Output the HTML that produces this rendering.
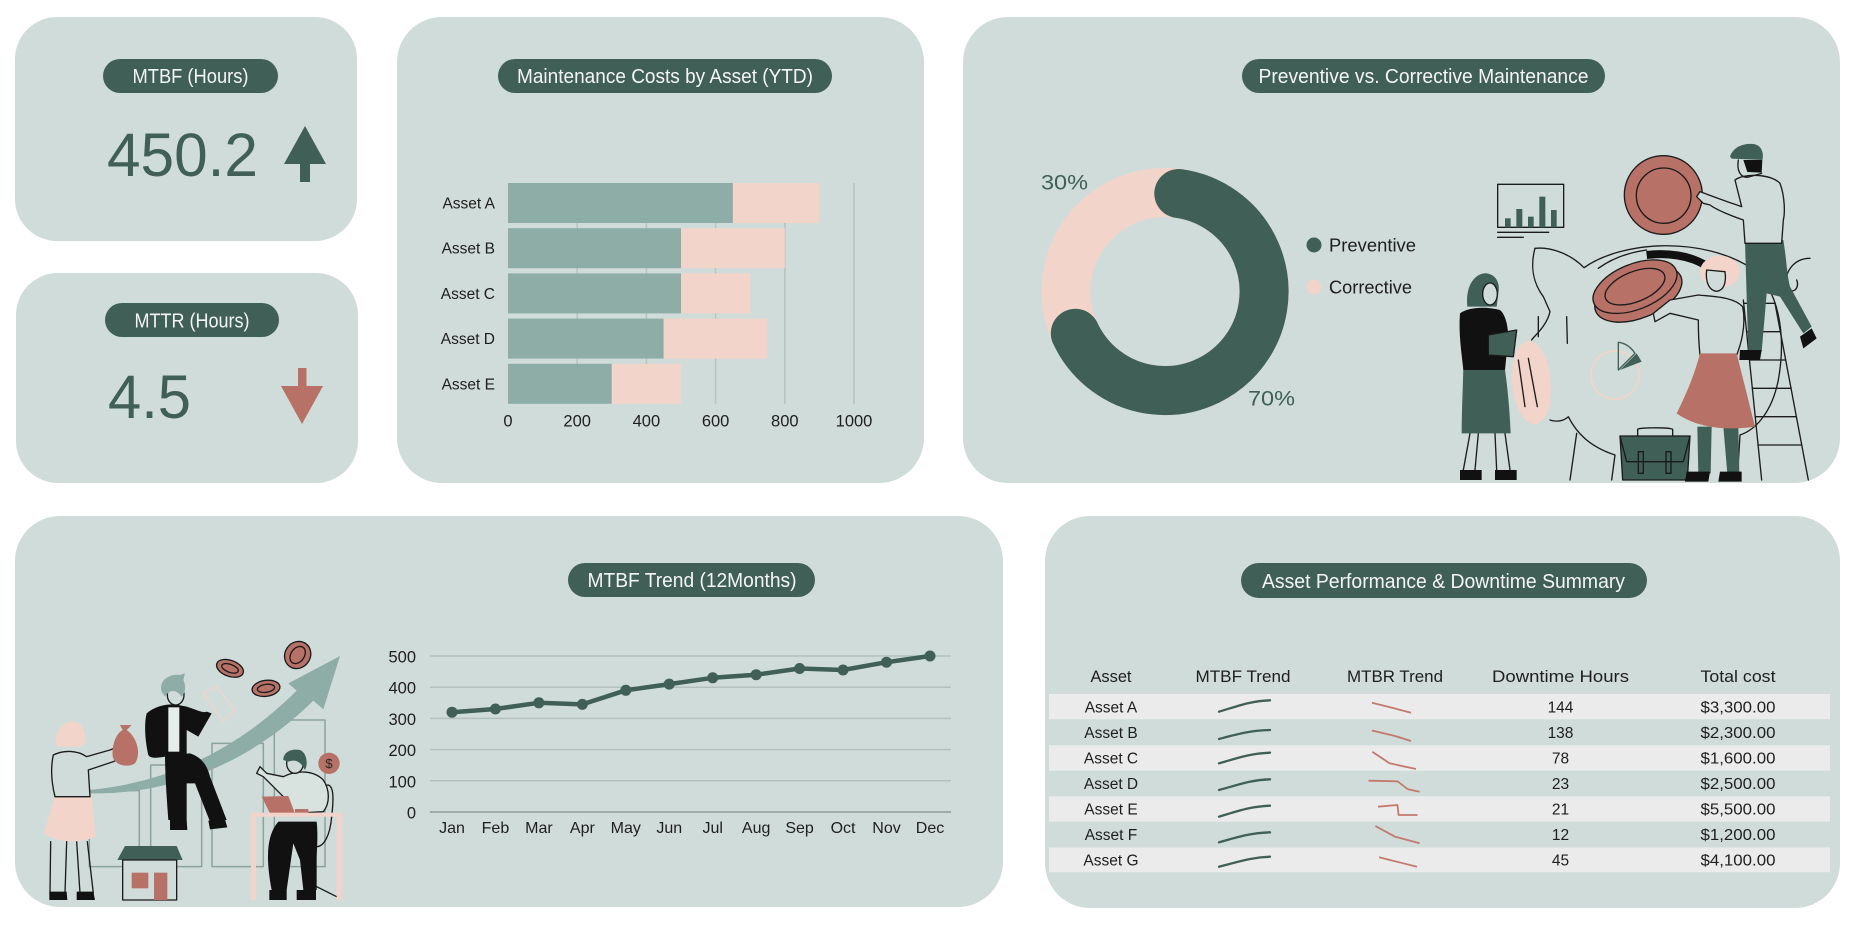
<!DOCTYPE html>
<html><head><meta charset="utf-8"><style>
html,body{margin:0;padding:0;background:#fff;}
svg{display:block;}
text{font-family:"Liberation Sans",sans-serif;}
</style></head><body>
<svg width="1860" height="930" viewBox="0 0 1860 930" xmlns="http://www.w3.org/2000/svg">
<rect width="1860" height="930" fill="#fff"/>
<!-- panels -->
<g fill="#d0dcd9">
<rect x="15" y="17" width="342" height="224" rx="42"/>
<rect x="16" y="273" width="342" height="210" rx="42"/>
<rect x="397" y="17" width="527" height="466" rx="45"/>
<rect x="963" y="17" width="877" height="466" rx="45"/>
<rect x="15" y="516" width="988" height="391" rx="45"/>
<rect x="1045" y="516" width="795" height="392" rx="45"/>
</g>
<!-- pills -->
<g fill="#3f5f57">
<rect x="103" y="59" width="175" height="34" rx="17"/>
<rect x="105" y="303" width="174" height="34" rx="17"/>
<rect x="498" y="59" width="334" height="34" rx="17"/>
<rect x="1242" y="59" width="363" height="34" rx="17"/>
<rect x="568" y="563" width="247" height="34" rx="17"/>
<rect x="1241" y="563" width="406" height="35" rx="17.5"/>
</g>
<g fill="#f5f5f5" font-size="20" text-anchor="middle">
<text x="190.5" y="83" textLength="116" lengthAdjust="spacingAndGlyphs">MTBF (Hours)</text>
<text x="192" y="327.5" textLength="115" lengthAdjust="spacingAndGlyphs">MTTR (Hours)</text>
<text x="665" y="83" textLength="296" lengthAdjust="spacingAndGlyphs">Maintenance Costs by Asset (YTD)</text>
<text x="1423.5" y="83" textLength="330" lengthAdjust="spacingAndGlyphs">Preventive vs. Corrective Maintenance</text>
<text x="692" y="587" textLength="209" lengthAdjust="spacingAndGlyphs">MTBF Trend (12Months)</text>
<text x="1443.5" y="588" textLength="363" lengthAdjust="spacingAndGlyphs">Asset Performance &amp; Downtime Summary</text>
</g>

<!-- KPI values -->
<g fill="#3f5f57" font-size="61">
<text x="107" y="176" textLength="151" lengthAdjust="spacingAndGlyphs">450.2</text>
<text x="108" y="418" textLength="83" lengthAdjust="spacingAndGlyphs">4.5</text>
</g>
<polygon points="305,126 326,164 284,164" fill="#3f5f57"/>
<rect x="300" y="163" width="10" height="19" fill="#3f5f57"/>
<rect x="298" y="368" width="8.5" height="19" fill="#b77167"/>
<polygon points="281,386 323,386 302,424" fill="#b77167"/>

<!-- Bar chart -->
<g stroke="#b6c3c0" stroke-width="1.5">
<line x1="577.2" y1="183" x2="577.2" y2="404"/>
<line x1="646.4" y1="183" x2="646.4" y2="404"/>
<line x1="715.6" y1="183" x2="715.6" y2="404"/>
<line x1="784.8" y1="183" x2="784.8" y2="404"/>
<line x1="854" y1="183" x2="854" y2="404"/>
</g>
<g fill="#8dada6">
<rect x="508" y="183" width="224.9" height="40"/>
<rect x="508" y="228.2" width="173" height="40"/>
<rect x="508" y="273.4" width="173" height="40"/>
<rect x="508" y="318.6" width="155.7" height="40"/>
<rect x="508" y="363.8" width="103.8" height="40"/>
</g>
<g fill="#f2d4ca">
<rect x="732.9" y="183" width="86.5" height="40"/>
<rect x="681" y="228.2" width="103.8" height="40"/>
<rect x="681" y="273.4" width="69.2" height="40"/>
<rect x="663.7" y="318.6" width="103.8" height="40"/>
<rect x="611.8" y="363.8" width="69.2" height="40"/>
</g>
<g fill="#1e1e1e" font-size="15.5" text-anchor="end">
<text x="495" y="208.5">Asset A</text>
<text x="495" y="253.7">Asset B</text>
<text x="495" y="298.9">Asset C</text>
<text x="495" y="344.1">Asset D</text>
<text x="495" y="389.3">Asset E</text>
</g>
<g fill="#1e1e1e" font-size="16.5" text-anchor="middle">
<text x="508" y="426.5">0</text>
<text x="577.2" y="426.5">200</text>
<text x="646.4" y="426.5">400</text>
<text x="715.6" y="426.5">600</text>
<text x="784.8" y="426.5">800</text>
<text x="854" y="426.5">1000</text>
</g>

<!-- Donut -->
<circle cx="1165" cy="291.5" r="99" fill="none" stroke="#f2d4ca" stroke-width="49"/>
<path d="M1178.8,193.5 A99,99 0 1 1 1075.3,333.3" fill="none" stroke="#3f5f57" stroke-width="49" stroke-linecap="round"/>
<g fill="#3f5f57" font-size="21">
<text x="1041" y="189.5" textLength="47" lengthAdjust="spacingAndGlyphs">30%</text>
<text x="1248" y="405.5" textLength="47" lengthAdjust="spacingAndGlyphs">70%</text>
</g>
<circle cx="1314" cy="245" r="7.5" fill="#3f5f57"/>
<circle cx="1314" cy="287" r="7.5" fill="#f2d4ca"/>
<g fill="#1e1e1e" font-size="18.5">
<text x="1329" y="251.5" textLength="87" lengthAdjust="spacingAndGlyphs">Preventive</text>
<text x="1329" y="293.5" textLength="83" lengthAdjust="spacingAndGlyphs">Corrective</text>
</g>

<!-- Right illustration -->
<g transform="translate(1450,140) scale(0.33333)" stroke="#1b1b1b" stroke-width="4" stroke-linejoin="round" stroke-linecap="round" fill="none">
  <!-- pig body -->
  <path d="M255,325 C300,320 360,340 402,383 C520,300 760,290 905,385 C985,445 1010,580 985,720 C965,820 915,870 870,885 L862,1020"/>
  <path d="M255,325 C240,380 250,430 280,470 L300,515 C290,560 250,590 245,600"/>
  <path d="M300,840 C330,850 350,835 355,830 C380,880 420,920 495,945 L485,1020"/>
  <path d="M380,880 L360,1020"/>
  <path d="M445,385 C490,352 540,337 590,330"/>
  <path d="M265,530 L265,590 M350,530 L352,610"/>
  <path d="M1080,355 C1030,355 1000,400 1010,440 C1030,470 1050,440 1040,420"/>
  <!-- pie -->
  <circle cx="495" cy="705" r="72" stroke="#f2d4ca" stroke-width="5"/>
  <path d="M505,690 L505,607 C530,610 545,625 555,640 Z" stroke="#3f5f57"/>
  <path d="M510,690 L560,640 L575,665 Z" fill="#3f5f57" stroke="none"/>
  <!-- ladder -->
  <path d="M880,480 L935,1020 M975,490 L1075,1020"/>
  <path d="M881,490 L975,490 M890,575 L991,575 M899,660 L1007,660 M907,745 L1023,745 M916,830 L1039,830 M924,915 L1055,915"/>
  <!-- chart board -->
  <rect x="143" y="133" width="198" height="129"/>
  <g fill="#3f5f57" stroke="none">
    <rect x="165" y="235" width="17" height="27"/>
    <rect x="199" y="207" width="18" height="55"/>
    <rect x="234" y="230" width="17" height="32"/>
    <rect x="268" y="170" width="18" height="92"/>
    <rect x="303" y="210" width="17" height="52"/>
  </g>
  <path d="M143,277 L296,277 M143,292 L220,292"/>
  <!-- briefcase -->
  <path d="M563,890 L563,868 C563,862 668,862 668,868 L668,890"/>
  <path d="M510,888 L720,888 L712,1020 L518,1020 Z" fill="#3f5f57"/>
  <path d="M510,888 L530,965 L700,965 L720,888"/>
  <rect x="565" y="935" width="15" height="65"/>
  <rect x="648" y="935" width="15" height="65"/>
  <!-- top coin -->
  <ellipse cx="640" cy="165" rx="117" ry="118" fill="#b77167"/>
  <ellipse cx="641" cy="167" rx="82" ry="83"/>
  <!-- slot band -->
  <path d="M590,345 C650,338 720,345 770,378" stroke="#111" stroke-width="24" stroke-linecap="butt"/>
  <!-- middle coin -->
  <ellipse cx="565" cy="462" rx="138" ry="72" transform="rotate(-22 565 462)" fill="#b77167"/>
  <ellipse cx="555" cy="440" rx="133" ry="68" transform="rotate(-22 555 440)" fill="#b77167"/>
  <ellipse cx="555" cy="440" rx="95" ry="45" transform="rotate(-22 555 440)"/>
  <!-- man on ladder -->
  <path d="M885,305 L1000,300 C1010,360 1010,400 1020,440 L1085,560 L1060,580 L990,470 L950,460 L935,635 L895,635 L890,470 Z" fill="#3f5f57" stroke="none"/>
  <path d="M855,120 C880,100 960,100 990,130 C1005,170 1005,220 1000,240 L995,310 L885,310 L880,240 C850,230 800,210 780,195 L760,190 L740,170 L750,155 L790,170 C830,185 860,195 875,200 Z" fill="#d0dcd9"/>
  <path d="M865,60 C860,90 870,112 892,112 L935,100"/>
  <path d="M880,60 L937,60 L935,98 L892,96 Z" fill="#111" stroke="none"/>
  <path d="M840,50 C850,20 880,10 910,12 C935,15 942,40 937,60 L845,56 Z" fill="#3f5f57" stroke="none"/>
  <path d="M870,630 L935,630 L930,660 L868,660 Z" fill="#111" stroke="none"/>
  <path d="M1050,590 L1085,565 L1100,595 L1060,625 Z" fill="#111" stroke="none"/>
  <!-- pink-haired woman -->
  <path d="M742,860 L785,860 L782,1000 L745,1000 Z M820,860 L865,860 L868,1000 L832,1000 Z" fill="#3f5f57" stroke="none"/>
  <path d="M710,995 L780,995 L775,1025 L705,1025 Z M810,995 L875,995 L875,1025 L805,1025 Z" fill="#111" stroke="none"/>
  <path d="M745,465 C790,470 850,470 878,500 C890,560 870,620 860,645 L750,645 C745,600 745,560 745,540 L660,520 L615,545 L610,520 L660,480 Z" fill="#d0dcd9"/>
  <path d="M750,640 L860,640 C880,720 900,800 915,860 C850,870 750,870 680,820 C710,760 735,700 750,640 Z" fill="#b77167" stroke="none"/>
  <ellipse cx="810" cy="395" rx="60" ry="48" fill="#f2d4ca" stroke="none"/>
  <path d="M770,390 C765,430 780,452 800,454 C820,452 830,430 825,395 Z" fill="#d0dcd9"/>
  <!-- left woman -->
  <path d="M60,880 L40,990 M85,880 L75,990 M135,880 L140,990 M165,880 L180,990"/>
  <path d="M30,990 L95,990 L95,1020 L30,1020 Z M135,990 L200,990 L200,1020 L135,1020 Z" fill="#111" stroke="none"/>
  <path d="M40,685 L165,690 C175,760 180,830 182,880 L35,880 C35,820 38,760 40,685 Z" fill="#3f5f57" stroke="none"/>
  <path d="M30,520 C60,500 110,500 150,510 C175,530 180,600 170,640 L165,690 L40,690 C35,640 25,580 30,520 Z" fill="#111" stroke="none"/>
  <path d="M52,500 C45,430 80,398 110,400 C145,405 150,440 145,460 L140,500 Z" fill="#3f5f57" stroke="none"/>
  <ellipse cx="120" cy="462" rx="22" ry="33" fill="#d0dcd9"/>
  <polygon points="115,585 200,570 190,650 115,645" fill="#3f5f57"/>
  <!-- pink coin -->
  <ellipse cx="245" cy="728" rx="58" ry="125" transform="rotate(-5 245 728)" fill="#f2d4ca" stroke="none"/>
  <path d="M205,660 L225,800 M235,655 L262,800"/>
</g>

<!-- Line chart -->
<g stroke="#b3c0bd" stroke-width="1.5">
<line x1="430" y1="656" x2="951" y2="656"/>
<line x1="430" y1="687.2" x2="951" y2="687.2"/>
<line x1="430" y1="718.4" x2="951" y2="718.4"/>
<line x1="430" y1="749.6" x2="951" y2="749.6"/>
<line x1="430" y1="780.8" x2="951" y2="780.8"/>
</g>
<line x1="430" y1="812" x2="951" y2="812" stroke="#8e9c99" stroke-width="1.5"/>
<g fill="#1e1e1e" font-size="16.5" text-anchor="end">
<text x="416" y="662.5">500</text>
<text x="416" y="693.7">400</text>
<text x="416" y="724.9">300</text>
<text x="416" y="756.1">200</text>
<text x="416" y="787.3">100</text>
<text x="416" y="818.5">0</text>
</g>
<polyline fill="none" stroke="#3f5f57" stroke-width="4.5" stroke-linejoin="round" points="452,712.2 495.45,709 538.9,702.8 582.35,704.4 625.8,690.3 669.25,684.1 712.7,677.8 756.15,674.7 799.6,668.5 843.05,670 886.5,662.2 930,656"/>
<g fill="#3f5f57">
<circle cx="452" cy="712.2" r="5.5"/><circle cx="495.45" cy="709" r="5.5"/><circle cx="538.9" cy="702.8" r="5.5"/><circle cx="582.35" cy="704.4" r="5.5"/><circle cx="625.8" cy="690.3" r="5.5"/><circle cx="669.25" cy="684.1" r="5.5"/><circle cx="712.7" cy="677.8" r="5.5"/><circle cx="756.15" cy="674.7" r="5.5"/><circle cx="799.6" cy="668.5" r="5.5"/><circle cx="843.05" cy="670" r="5.5"/><circle cx="886.5" cy="662.2" r="5.5"/><circle cx="930" cy="656" r="5.5"/>
</g>
<g fill="#1e1e1e" font-size="16" text-anchor="middle">
<text x="452" y="833">Jan</text><text x="495.45" y="833">Feb</text><text x="538.9" y="833">Mar</text><text x="582.35" y="833">Apr</text><text x="625.8" y="833">May</text><text x="669.25" y="833">Jun</text><text x="712.7" y="833">Jul</text><text x="756.15" y="833">Aug</text><text x="799.6" y="833">Sep</text><text x="843.05" y="833">Oct</text><text x="886.5" y="833">Nov</text><text x="930" y="833">Dec</text>
</g>

<!-- Left illustration -->
<g transform="translate(30,630) scale(0.33333)" stroke="#1b1b1b" stroke-width="4" stroke-linejoin="round" stroke-linecap="round" fill="none">
  <g stroke="#8aa39c" stroke-width="4.5">
    <rect x="178" y="482" width="150" height="228"/>
    <rect x="362" y="405" width="153" height="305"/>
    <rect x="546" y="340" width="154" height="370"/>
    <rect x="733" y="270" width="152" height="440"/>
  </g>
  <path d="M180,480 C420,455 620,360 800,182 L775,160 L930,78 L880,238 L850,212 C660,400 420,495 180,490 Z" fill="#8dada6" stroke="none"/>
  <ellipse cx="600" cy="115" rx="42" ry="24" transform="rotate(20 600 115)" fill="#b77167"/>
  <ellipse cx="600" cy="115" rx="26" ry="12" transform="rotate(20 600 115)"/>
  <ellipse cx="708" cy="175" rx="42" ry="24" transform="rotate(-8 708 175)" fill="#b77167"/>
  <ellipse cx="708" cy="175" rx="26" ry="12" transform="rotate(-8 708 175)"/>
  <ellipse cx="803" cy="75" rx="38" ry="42" transform="rotate(35 803 75)" fill="#b77167"/>
  <ellipse cx="803" cy="75" rx="20" ry="28" transform="rotate(35 803 75)"/>
  <!-- woman -->
  <path d="M62,635 L60,790 M110,635 L105,790 M140,635 L150,790 M172,635 L190,790"/>
  <path d="M58,785 L110,785 L112,810 L58,810 Z M140,785 L190,785 L195,810 L140,810 Z" fill="#111" stroke="none"/>
  <path d="M75,495 L185,495 C190,550 195,590 198,620 C150,640 90,640 40,610 C55,570 65,530 75,495 Z" fill="#f2d4ca" stroke="none"/>
  <path d="M70,375 C100,360 140,360 170,380 L240,360 L265,350 L270,385 L250,395 L175,420 L180,500 L75,500 C65,460 60,420 70,375 Z" fill="#d0dcd9"/>
  <path d="M80,350 C70,300 100,272 130,275 C160,278 168,310 165,340 L150,350 Z" fill="#f2d4ca" stroke="none"/>
  <path d="M270,285 L305,285 L290,300 C320,320 335,370 315,400 C290,415 255,405 248,380 C245,340 260,310 278,300 Z" fill="#b77167" stroke="none"/>
  <!-- sitting man -->
  <path d="M405,375 L480,370 C510,380 530,400 540,440 L590,570 L540,575 L495,460 L470,460 L470,570 L415,570 C410,500 405,430 405,375 Z" fill="#111" stroke="none"/>
  <path d="M350,250 C380,225 420,220 445,225 L470,230 C500,240 520,250 530,245 L545,250 L505,320 L470,300 L470,380 L405,380 C380,385 360,385 355,375 C345,330 342,280 350,250 Z" fill="#111" stroke="none"/>
  <rect x="415" y="232" width="33" height="133" fill="#e6ecea" stroke="none"/>
  <ellipse cx="437" cy="195" rx="25" ry="30" fill="#d0dcd9"/>
  <path d="M395,185 C385,150 420,130 450,135 L465,130 L460,150 C470,170 465,190 455,200 C440,180 420,175 405,200 Z" fill="#8dada6" stroke="none"/>
  <path d="M420,570 L470,570 L472,600 L420,600 Z M535,572 L585,568 L592,592 L540,598 Z" fill="#111" stroke="none"/>
  <polygon points="520,190 560,170 615,240 580,275" stroke="#f2d4ca"/>
  <!-- house -->
  <path d="M285,648 L440,648 L458,690 L262,690 Z" fill="#3f5f57" stroke="none"/>
  <rect x="278" y="690" width="162" height="120" fill="#d0dcd9"/>
  <rect x="305" y="728" width="50" height="47" fill="#b77167" stroke="none"/>
  <rect x="372" y="728" width="40" height="82" fill="#b77167" stroke="none"/>
  <!-- desk and chair -->
  <path d="M835,470 L895,465 C910,470 912,500 905,560 C900,620 880,650 860,650 L830,650"/>
  <path d="M860,770 L920,800"/>
  <path d="M745,575 L860,575 C865,620 860,660 860,690 L860,780 L820,780 L810,690 L790,640 L770,780 L725,780 C710,700 705,620 745,575 Z" fill="#111" stroke="none"/>
  <path d="M718,780 L770,780 L770,810 L718,810 Z M800,780 L858,780 L858,810 L800,810 Z" fill="#111" stroke="none"/>
  <path d="M760,440 C800,420 850,420 880,450 C900,480 900,520 880,545 L790,550 L760,500 L700,440 L680,430 L690,410 L710,430 Z" fill="#d8e2df"/>
  <ellipse cx="795" cy="400" rx="25" ry="30" fill="#d0dcd9"/>
  <path d="M760,390 C760,365 785,355 810,360 C830,368 835,400 825,420 C815,400 800,385 775,395 Z" fill="#3f5f57" stroke="none"/>
  <polygon points="695,500 775,498 795,550 720,550" fill="#b77167" stroke="none"/>
  <rect x="795" y="537" width="40" height="12" fill="#b77167" stroke="none"/>
  <rect x="663" y="548" width="272" height="12" fill="#f2d4ca" stroke="none"/>
  <rect x="663" y="548" width="15" height="262" fill="#f2d4ca" stroke="none"/>
  <rect x="920" y="548" width="15" height="262" fill="#f2d4ca" stroke="none"/>
  <circle cx="897" cy="400" r="32" fill="#b77167" stroke="none"/>
  <text x="897" y="414" font-size="40" text-anchor="middle" fill="#2a2a2a" stroke="none">$</text>
</g>

<!-- Table -->
<g fill="#ebebeb">
<rect x="1049" y="694" width="781" height="25.3"/>
<rect x="1049" y="745.3" width="781" height="25.4"/>
<rect x="1049" y="796.3" width="781" height="25.4"/>
<rect x="1049" y="847.5" width="781" height="24.7"/>
</g>
<g fill="#1e1e1e" font-size="17" text-anchor="middle">
<text x="1111" y="682" textLength="41" lengthAdjust="spacingAndGlyphs">Asset</text>
<text x="1243" y="682" textLength="95" lengthAdjust="spacingAndGlyphs">MTBF Trend</text>
<text x="1395" y="682" textLength="96" lengthAdjust="spacingAndGlyphs">MTBR Trend</text>
<text x="1560.5" y="682" textLength="137" lengthAdjust="spacingAndGlyphs">Downtime Hours</text>
<text x="1738" y="682" textLength="75" lengthAdjust="spacingAndGlyphs">Total cost</text>
</g>
<g fill="#1e1e1e" font-size="15.5" text-anchor="middle">
<text x="1111" y="712.7">Asset A</text><text x="1560.5" y="712.7">144</text><text x="1738" y="712.7" textLength="75" lengthAdjust="spacingAndGlyphs">$3,300.00</text>
<text x="1111" y="738.1">Asset B</text><text x="1560.5" y="738.1">138</text><text x="1738" y="738.1" textLength="75" lengthAdjust="spacingAndGlyphs">$2,300.00</text>
<text x="1111" y="763.6">Asset C</text><text x="1560.5" y="763.6">78</text><text x="1738" y="763.6" textLength="75" lengthAdjust="spacingAndGlyphs">$1,600.00</text>
<text x="1111" y="789">Asset D</text><text x="1560.5" y="789">23</text><text x="1738" y="789" textLength="75" lengthAdjust="spacingAndGlyphs">$2,500.00</text>
<text x="1111" y="814.4">Asset E</text><text x="1560.5" y="814.4">21</text><text x="1738" y="814.4" textLength="75" lengthAdjust="spacingAndGlyphs">$5,500.00</text>
<text x="1111" y="839.9">Asset F</text><text x="1560.5" y="839.9">12</text><text x="1738" y="839.9" textLength="75" lengthAdjust="spacingAndGlyphs">$1,200.00</text>
<text x="1111" y="865.3">Asset G</text><text x="1560.5" y="865.3">45</text><text x="1738" y="865.3" textLength="75" lengthAdjust="spacingAndGlyphs">$4,100.00</text>
</g>
<g fill="none" stroke="#3f5f57" stroke-width="2.3" stroke-linecap="round">
<path d="M1219,711.7 C1238,706 1250,701 1270,700.3"/>
<path d="M1219,739 C1238,734 1250,730.5 1270,730"/>
<path d="M1219,763.3 C1238,758 1250,753.5 1270,752.7"/>
<path d="M1219,790 C1238,785 1250,780 1270,779.3"/>
<path d="M1219,816.7 C1238,811 1250,806.5 1270,805.7"/>
<path d="M1219,842.3 C1238,837 1250,833 1270,832.3"/>
<path d="M1219,866.7 C1238,862 1250,857.5 1270,856.7"/>
</g>
<g fill="none" stroke="#c27a6e" stroke-width="1.8" stroke-linejoin="round">
<polyline points="1372,702.7 1395,708.5 1411,712.7"/>
<polyline points="1372,730.5 1395,736 1411,741"/>
<polyline points="1372.3,751.7 1389.6,763.3 1416,769"/>
<polyline points="1368.6,780.7 1397.5,781.3 1408,789.3 1419.6,791.7"/>
<polyline points="1378,806.7 1397.5,805 1398.6,815 1417.5,815"/>
<polyline points="1375.4,826 1395,836.7 1419.6,843.3"/>
<polyline points="1379,857.3 1417,866.7"/>
</g>
</svg>
</body></html>
